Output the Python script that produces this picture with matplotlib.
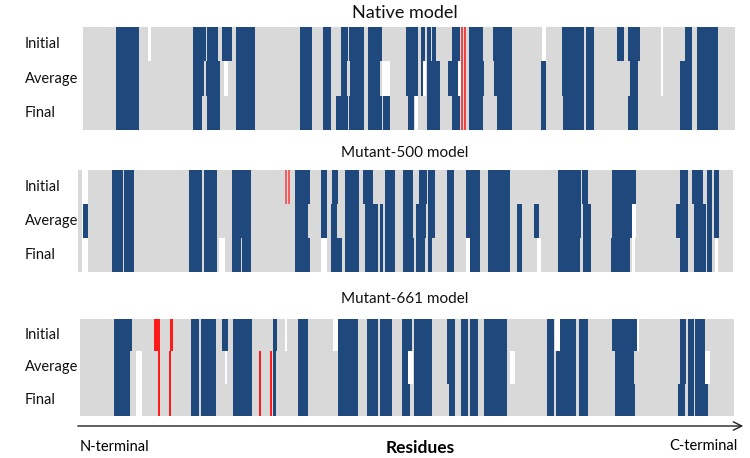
import matplotlib
matplotlib.use("Agg")
import matplotlib.pyplot as plt
from matplotlib.transforms import blended_transform_factory

# ---------------- data (residue coordinates) ----------------
row_labels = ["Initial", "Average", "Final"]
panel_titles = ["Native model", "Mutant-500 model", "Mutant-661 model"]
panel_extent = [(3, 655), (-2, 653), (0, 654)]

# Native model
native_initial_helix = [(36, 59), (113, 126), (127, 138), (142, 152), (156, 175), (220, 232), (243, 251),
                        (261, 268), (269, 284), (288, 302), (326, 338), (341, 345), (347, 351), (352, 356),
                        (372, 380), (389, 403), (413, 432), (482, 504), (506, 514), (537, 544), (548, 560),
                        (605, 612), (617, 638)]
native_initial_gap = [(68, 71), (462, 466), (581, 583)]
native_initial_mut = [(381, 382.5), (384, 386)]
native_average_helix = [(36, 59), (113, 124), (126, 140), (156, 175), (220, 232), (243, 251), (261, 267),
                        (270, 284), (288, 300), (326, 338), (341, 343), (347, 360), (368, 378), (389, 404),
                        (414, 432), (461, 466), (482, 504), (506, 514), (550, 558), (600, 612), (617, 638)]
native_average_gap = [(144, 148), (302, 310), (343, 346), (378, 380.5), (581, 583)]
native_average_mut = [(381, 382.5), (384, 386)]
native_final_helix = [(36, 59), (113, 122), (127, 140), (156, 175), (220, 232), (243, 251), (256, 268),
                      (269, 284), (288, 302), (303, 310), (328, 334), (347, 360), (372, 380), (389, 403),
                      (417, 432), (461, 466), (483, 504), (506, 514), (548, 558), (600, 612), (617, 638)]
native_final_gap = [(335, 338)]
native_final_mut = [(381, 382.5), (384, 386)]

# Mutant-500 model
m500_initial_helix = [(32, 43), (44, 54), (109, 122), (124, 137), (152, 171), (215, 230), (241, 247),
                      (252, 258), (265, 279), (283, 293), (305, 315), (323, 333), (339, 347), (348, 355),
                      (367, 374), (386, 400), (408, 430), (478, 501), (502, 508), (532, 556), (600, 608),
                      (612, 623), (627, 632), (634, 639)]
m500_initial_gap = [(2, 8)]
m500_initial_mut = [(205, 207), (208, 210)]
m500_average_helix = [(2.5, 7.5), (32, 43), (44, 54), (109, 122), (124, 137), (152, 171), (215, 228),
                      (241, 247), (251, 257), (265, 279), (285, 298), (300, 303), (305, 315), (323, 333),
                      (336, 346), (348, 355), (367, 374), (386, 400), (408, 430), (437, 442), (454, 459),
                      (478, 501), (503, 511), (532, 552), (596, 608), (614, 626), (627, 632), (634, 639)]
m500_average_gap = [(2, 8), (552, 556)]
m500_average_mut = []
m500_final_helix = [(32, 43), (44, 54), (109, 122), (124, 137), (152, 161), (162, 171), (215, 230),
                    (251, 262), (265, 279), (285, 298), (300, 303), (305, 315), (323, 334), (336, 345),
                    (348, 352), (367, 374), (390, 400), (408, 430), (437, 442), (478, 500), (503, 511),
                    (531, 550), (600, 608), (614, 626), (627, 632)]
m500_final_gap = [(2, 8), (139, 145), (241, 247), (386, 390), (457, 461), (552, 555), (635, 638)]
m500_final_mut = []

# Mutant-661 model
m661_initial_helix = [(34, 52), (111, 119), (121, 136), (142, 148), (153, 172), (193, 197), (218, 228),
                      (258, 278), (287, 298), (300, 312), (322, 332), (334, 352), (367, 375), (381, 388),
                      (390, 398), (404, 427), (467, 474), (480, 496), (499, 508), (532, 557), (600, 606),
                      (608, 614), (615, 625)]
m661_initial_gap = [(205, 207), (253, 258), (475, 480), (557, 559)]
m661_initial_mut = [(74, 78), (78, 80), (90, 93)]
m661_average_helix = [(34, 50), (111, 119), (121, 136), (153, 172), (193, 196), (218, 228), (258, 278),
                      (287, 298), (300, 312), (322, 328), (334, 352), (367, 375), (381, 388), (390, 398),
                      (404, 427), (467, 474), (476, 496), (499, 508), (535, 554), (600, 606), (608, 614),
                      (615, 625)]
m661_average_gap = [(56, 62), (145, 147), (328, 333), (430, 435), (625, 630)]
m661_average_mut = [(78, 80), (89, 91), (179, 181), (190, 192)]
m661_final_helix = [(34, 50), (111, 119), (121, 136), (153, 172), (193, 196), (218, 228), (258, 278),
                    (287, 298), (300, 312), (322, 330), (334, 352), (369, 375), (381, 388), (390, 398),
                    (404, 427), (467, 474), (476, 496), (499, 508), (535, 555), (598, 605), (608, 614),
                    (615, 628)]
m661_final_gap = [(56, 62)]
m661_final_mut = [(78, 80), (89, 91), (179, 181), (190, 192)]

panels = [
    [(native_initial_helix, native_initial_gap, native_initial_mut),
     (native_average_helix, native_average_gap, native_average_mut),
     (native_final_helix, native_final_gap, native_final_mut)],
    [(m500_initial_helix, m500_initial_gap, m500_initial_mut),
     (m500_average_helix, m500_average_gap, m500_average_mut),
     (m500_final_helix, m500_final_gap, m500_final_mut)],
    [(m661_initial_helix, m661_initial_gap, m661_initial_mut),
     (m661_average_helix, m661_average_gap, m661_average_mut),
     (m661_final_helix, m661_final_gap, m661_final_mut)],
]

# ---------------- styling ----------------
W, H = 750, 458
FONT = ["Lato", "DejaVu Sans"]
GRAY = "#d9d9d9"
BLUE = "#1f497d"
RED_COLORS = ["#ee4444", "#f06060", "#ff1a1a"]

fig = plt.figure(figsize=(W / 100, H / 100), dpi=100)

# panel boxes in pixels: (top, bottom)
boxes = [(27, 130), (170, 272), (319, 416)]
title_y = [13, 153, 299]
title_size = [13, 11, 11]
xmin, xmax = -5, 660
x0_px, x1_px = 75, 740


def segs(lst):
    return [(a, b - a) for a, b in lst]


for p, ((top, bot), rows) in enumerate(zip(boxes, panels)):
    ax = fig.add_axes([x0_px / W, (H - bot) / H, (x1_px - x0_px) / W, (bot - top) / H])
    ax.set_xlim(xmin, xmax)
    ax.set_ylim(3, 0)
    ax.axis("off")
    tr = blended_transform_factory(fig.transFigure, ax.transData)
    for r, (helix, gap, mut) in enumerate(rows):
        ext = panel_extent[p]
        ax.broken_barh([(ext[0], ext[1] - ext[0])], (r, 1), facecolors=GRAY, linewidth=0)
        ax.broken_barh(segs(gap), (r, 1), facecolors="white", linewidth=0)
        ax.broken_barh(segs(helix), (r, 1), facecolors=BLUE, linewidth=0)
        ax.broken_barh(segs(mut), (r, 1), facecolors=RED_COLORS[p], linewidth=0)
        ax.text(25 / W, r + 0.5, row_labels[r], transform=tr, ha="left", va="center",
                fontsize=10.5, family=FONT, color="#111111")
    fig.text(0.54, 1 - title_y[p] / H, panel_titles[p], ha="center", va="center",
             fontsize=title_size[p], family=FONT, color="#111111")

# residue axis arrow
fig.add_artist(matplotlib.patches.FancyArrowPatch(
    (75 / W, 1 - 426 / H), (746 / W, 1 - 426 / H), transform=fig.transFigure,
    arrowstyle="->,head_length=6,head_width=3", color="#222222", linewidth=1))
fig.text(80 / W, 1 - 447 / H, "N-terminal", ha="left", va="center", fontsize=10.5, family=FONT)
fig.text(420 / W, 1 - 448 / H, "Residues", ha="center", va="center", fontsize=12.5,
         fontweight="bold", family=FONT)
fig.text(738 / W, 1 - 446 / H, "C-terminal", ha="right", va="center", fontsize=10.5, family=FONT)

fig.savefig("out.png", dpi=100, facecolor="white")
